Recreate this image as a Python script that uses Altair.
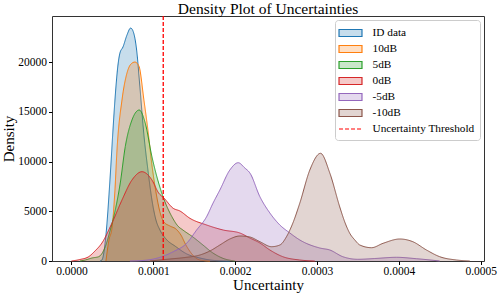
import altair as alt
import pandas as pd

# ---- data (x = uncertainty, y = density) ----
series_names = ["ID data", "10dB", "5dB", "0dB", "-5dB", "-10dB"]
threshold_label = "Uncertainty Threshold"
threshold_x = [0.0001121]

id_x = [0.0000348, 0.0000372, 0.0000421, 0.0000470, 0.0000507, 0.0000531, 0.0000568,
        0.0000592, 0.0000629, 0.0000678, 0.0000723, 0.0000755, 0.0000796, 0.0000836,
        0.0000885, 0.0000934, 0.0000983, 0.0001032, 0.0001081, 0.0001166, 0.0001264,
        0.0001410, 0.0001569, 0.0001752, 0.0001935]
id_y = [0, 100, 2616, 8149, 13179, 16197, 19718, 20925, 21528, 22736, 23440, 23068,
        21227, 17504, 12676, 9155, 6137, 4125, 3119, 2113, 1509, 704, 302, 50, 0]

db10_x = [0.0000421, 0.0000458, 0.0000495, 0.0000531, 0.0000556, 0.0000617, 0.0000678,
          0.0000727, 0.0000775, 0.0000824, 0.0000885, 0.0000934, 0.0000983, 0.0001032,
          0.0001081, 0.0001129, 0.0001203, 0.0001276, 0.0001337, 0.0001398, 0.0001471,
          0.0001569, 0.0001691]
db10_y = [0, 2113, 3320, 7143, 11166, 16197, 18913, 19818, 20019, 19617, 16197, 13179,
          9658, 6941, 4929, 3923, 3521, 3219, 2616, 1610, 704, 101, 0]

db5_x = [0.0000104, 0.0000168, 0.0000250, 0.0000332, 0.0000413, 0.0000474, 0.0000535,
         0.0000596, 0.0000657, 0.0000739, 0.0000828, 0.0000901, 0.0000983, 0.0001065,
         0.0001129, 0.0001227, 0.0001300, 0.0001361, 0.0001484, 0.0001606, 0.0001728,
         0.0001850, 0.0001996]
db5_y = [0, 101, 302, 433, 1439, 3119, 5131, 7847, 11499, 14185, 15191, 13883, 10493,
         7847, 6237, 4457, 3521, 3119, 2414, 1610, 805, 272, 0]

db0_x = [0.0, 0.0000104, 0.0000210, 0.0000287, 0.0000372, 0.0000495, 0.0000617,
         0.0000739, 0.0000861, 0.0000983, 0.0001065, 0.0001129, 0.0001243, 0.0001325,
         0.0001447, 0.0001651, 0.0001853, 0.0002057, 0.0002179, 0.0002302, 0.0002424,
         0.0002582, 0.0002789, 0.0002973]
db0_y = [0, 151, 433, 1006, 1811, 3823, 6137, 8149, 8984, 8149, 6841, 6338, 5302, 5030,
         4296, 3622, 3119, 2817, 2314, 1811, 1107, 433, 101, 0]

dbm5_x = [0.0000714, 0.0000836, 0.0001040, 0.0001243, 0.0001407, 0.0001529, 0.0001651,
          0.0001728, 0.0001813, 0.0001935, 0.0002037, 0.0002118, 0.0002180, 0.0002302,
          0.0002424, 0.0002546, 0.0002668, 0.0002790, 0.0003034, 0.0003156, 0.0003315,
          0.0003498, 0.0003706, 0.0003971, 0.0004215, 0.0004499]
dbm5_y = [0, 30, 272, 936, 1781, 3119, 4457, 5800, 7143, 9155, 9889, 9356, 8853, 6469,
          4829, 3622, 2817, 2113, 1308, 1107, 433, 171, 251, 372, 231, 0]

dbm10_x = [0.0000958, 0.0001203, 0.0001386, 0.0001569, 0.0001691, 0.0001813, 0.0001935,
           0.0002057, 0.0002179, 0.0002302, 0.0002444, 0.0002546, 0.0002627, 0.0002705,
           0.0002790, 0.0002912, 0.0003043, 0.0003156, 0.0003278, 0.0003339, 0.0003400,
           0.0003462, 0.0003523, 0.0003666, 0.0003807, 0.0004011, 0.0004170, 0.0004337,
           0.0004499, 0.0004703, 0.0004866]
dbm10_y = [0, 201, 352, 604, 1006, 1610, 2213, 2515, 2414, 1942, 1439, 1610, 2445, 3823,
           5835, 9155, 10835, 8853, 5432, 3923, 2787, 2113, 1610, 1338, 1781, 2213, 1942,
           1107, 433, 101, 0]

x_ticks = [0.0, 0.0001, 0.0002, 0.0003, 0.0004, 0.0005]
y_ticks = [0, 5000, 10000, 15000, 20000]

line_colors = ["#1f77b4", "#ff7f0e", "#2ca02c", "#d62728", "#9467bd", "#8c564b", "#ff0000"]
fill_colors = ["rgba(31,119,180,0.25)", "rgba(255,127,14,0.25)", "rgba(44,160,44,0.25)",
               "rgba(214,39,40,0.25)", "rgba(148,103,189,0.25)", "rgba(140,86,75,0.25)",
               "rgba(255,0,0,0)"]
dashes = [[1, 0]] * 6 + [[4, 2]]
shapes = ["M-1.64,-0.5H1.64V0.5H-1.64Z"] * 6 + ["M-1.64,0H1.64"]

# ---- build tables ----
xs = [id_x, db10_x, db5_x, db0_x, dbm5_x, dbm10_x]
ys = [id_y, db10_y, db5_y, db0_y, dbm5_y, dbm10_y]
frames = []
for name, xv, yv in zip(series_names, xs, ys):
    frames.append(pd.DataFrame({"x": xv, "y": yv, "series": name}))
df = pd.concat(frames, ignore_index=True)
thr_df = pd.DataFrame({"x": threshold_x, "series": [threshold_label]})

FONT = "Liberation Serif"
domain_all = series_names + [threshold_label]

lg = alt.Legend(title=None)
fill_enc = alt.Fill("series:N", scale=alt.Scale(domain=domain_all, range=fill_colors), legend=lg)
stroke_enc = alt.Stroke("series:N", scale=alt.Scale(domain=domain_all, range=line_colors), legend=lg)
dash_enc = alt.StrokeDash("series:N", scale=alt.Scale(domain=domain_all, range=dashes), legend=lg)
shape_enc = alt.Shape("series:N", scale=alt.Scale(domain=domain_all, range=shapes), legend=lg)

X = alt.X(
    "x:Q",
    scale=alt.Scale(domain=[-0.0000238, 0.000504], nice=False, zero=False),
    axis=alt.Axis(values=x_ticks, format=".4f", title="Uncertainty",
                  titleY=28, titleBaseline="alphabetic", tickSize=3.5, labelPadding=1),
)
Y = alt.Y(
    "y:Q",
    scale=alt.Scale(domain=[0, 24650], nice=False),
    axis=alt.Axis(values=y_ticks, format="d", title="Density",
                  titleX=-39, titleBaseline="alphabetic", tickSize=3.5, labelPadding=2),
)

layers = []
for name in series_names:
    base = alt.Chart(df).transform_filter(alt.datum.series == name)
    layers.append(base.mark_area(interpolate="monotone").encode(x=X, y=Y, fill=fill_enc))
    layers.append(base.mark_line(strokeWidth=1, interpolate="monotone")
                  .encode(x=X, y=Y, stroke=stroke_enc, strokeDash=dash_enc))

rule = alt.Chart(thr_df).mark_rule(strokeWidth=1.3).encode(x=X, stroke=stroke_enc, strokeDash=dash_enc)
layers.append(rule)
# invisible point layer only to give the legend its symbol shapes
legend_shapes = alt.Chart(thr_df).transform_filter("false").mark_point().encode(x=X, shape=shape_enc)
layers.append(legend_shapes)

chart = (
    alt.layer(*layers)
    .properties(
        width=432,
        height=245,
        title=alt.Title("Density Plot of Uncertainties", anchor="middle", frame="group",
                        offset=4, dy=6),
        autosize=alt.AutoSizeParams(type="none"),
        padding={"left": 52, "top": 16, "right": 14, "bottom": 33},
    )
    .configure_view(stroke="#333333", strokeWidth=1)
    .configure_axis(
        grid=False,
        domain=False,
        tickColor="black",
        labelColor="black",
        titleColor="black",
        labelFont=FONT,
        titleFont=FONT,
        labelFontSize=11.5,
        titleFontSize=15,
        titleFontWeight="normal",
    )
    .configure_legend(
        orient="top-right",
        offset=4,
        padding=5,
        strokeColor="#cccccc",
        fillColor="white",
        cornerRadius=3,
        labelFont=FONT,
        labelFontSize=11.3,
        labelColor="black",
        symbolSize=196,
        symbolOffset=2.5,
        rowPadding=2,
        labelOffset=14,
        symbolStrokeWidth=1.2,
        symbolOpacity=1,
    )
    .configure_title(font=FONT, fontSize=15.5, fontWeight="normal", color="black")
)

chart.save("out.html", embed_options={"renderer": "svg", "actions": False})
